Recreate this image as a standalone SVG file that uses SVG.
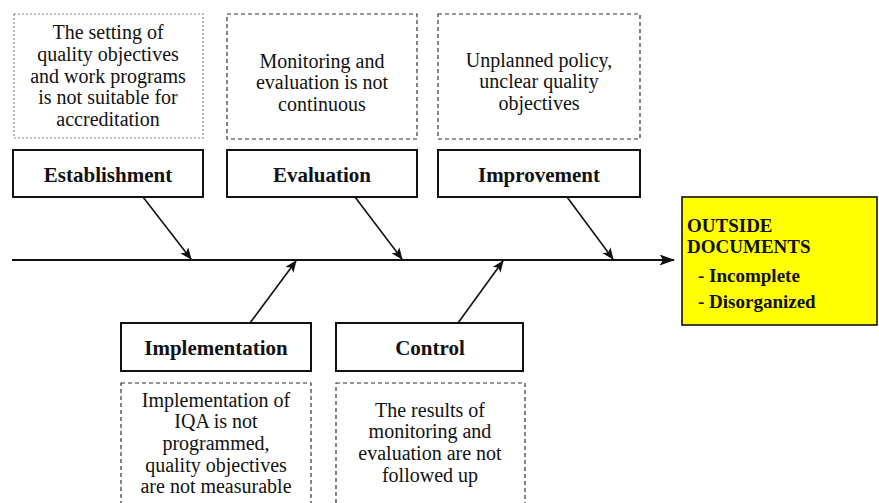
<svg xmlns="http://www.w3.org/2000/svg" width="879" height="503" viewBox="0 0 879 503">
<style>
.bg{fill:#ffffff}
.note{fill:#ffffff;stroke:#333;stroke-width:1.2;stroke-dasharray:4,3}
.note1{fill:#ffffff;stroke:#888;stroke-width:1.2;stroke-dasharray:2,2}
.cat{fill:#ffffff;stroke:#111;stroke-width:2}
.t{font-size:20px;fill:#111;text-anchor:middle}
.b{font-size:21px;font-weight:bold;fill:#111;text-anchor:middle}
.y{font-size:19px;font-weight:bold;fill:#111}
.c{stroke:#111;stroke-width:1.6;fill:none;marker-end:url(#ah)}
.spine{stroke:#111;stroke-width:2.2;fill:none;marker-end:url(#ah2)}
</style>
<defs>
<marker id="ah" viewBox="0 0 12 10" refX="11" refY="5" markerWidth="12" markerHeight="10" markerUnits="userSpaceOnUse" orient="auto">
<path d="M0,0 L12,5 L0,10 L3,5 z" fill="#111"/>
</marker>
<marker id="ah2" viewBox="0 0 14 10" refX="13" refY="5" markerWidth="16" markerHeight="11" markerUnits="userSpaceOnUse" orient="auto">
<path d="M0,0 L14,5 L0,10 L3,5 z" fill="#111"/>
</marker>
</defs>
<rect class="bg" x="0" y="0" width="879" height="503"/>

<g id="connectors">
<line class="spine" x1="12" y1="260" x2="674" y2="260"/>
<line class="c" x1="143" y1="197" x2="191" y2="259"/>
<line class="c" x1="355" y1="197" x2="402" y2="259"/>
<line class="c" x1="567" y1="197" x2="613" y2="259"/>
<line class="c" x1="250" y1="323" x2="296" y2="261"/>
<line class="c" x1="458" y1="323" x2="503" y2="261"/>
</g>

<g font-family="Liberation Serif, Tinos, DejaVu Serif, serif">
<g id="note-establishment">
<rect class="note1" x="14" y="14" width="189" height="124"/>
<text class="t" x="108" y="39">The setting of</text>
<text class="t" x="108" y="61">quality objectives</text>
<text class="t" x="108" y="83">and work programs</text>
<text class="t" x="108" y="104">is not suitable for</text>
<text class="t" x="108" y="126">accreditation</text>
</g>
<g id="establishment">
<rect class="cat" x="13" y="150" width="190" height="47"/>
<text class="b" x="108" y="182">Establishment</text>
</g>

<g id="note-evaluation">
<rect class="note" x="227" y="14" width="190" height="125"/>
<text class="t" x="322" y="68">Monitoring and</text>
<text class="t" x="322" y="89">evaluation is not</text>
<text class="t" x="322" y="111">continuous</text>
</g>
<g id="evaluation">
<rect class="cat" x="227" y="150" width="190" height="47"/>
<text class="b" x="322" y="182">Evaluation</text>
</g>

<g id="note-improvement">
<rect class="note" x="438" y="14" width="202" height="125"/>
<text class="t" x="539" y="67">Unplanned policy,</text>
<text class="t" x="539" y="88">unclear quality</text>
<text class="t" x="539" y="110">objectives</text>
</g>
<g id="improvement">
<rect class="cat" x="438" y="150" width="202" height="47"/>
<text class="b" x="539" y="182">Improvement</text>
</g>

<g id="implementation">
<rect class="cat" x="121" y="323" width="190" height="48"/>
<text class="b" x="216" y="355">Implementation</text>
</g>
<g id="note-implementation">
<rect class="note" x="121" y="383" width="190" height="130"/>
<text class="t" x="216" y="407">Implementation of</text>
<text class="t" x="216" y="428">IQA is not</text>
<text class="t" x="216" y="450">programmed,</text>
<text class="t" x="216" y="472">quality objectives</text>
<text class="t" x="216" y="493">are not measurable</text>
</g>

<g id="control">
<rect class="cat" x="336" y="323" width="187" height="48"/>
<text class="b" x="430" y="355">Control</text>
</g>
<g id="note-control">
<rect class="note" x="336" y="383" width="189" height="130"/>
<text class="t" x="430" y="417">The results of</text>
<text class="t" x="430" y="438">monitoring and</text>
<text class="t" x="430" y="460">evaluation are not</text>
<text class="t" x="430" y="482">followed up</text>
</g>

<g id="outside-documents">
<rect x="682" y="197" width="195" height="128" fill="#ffff00" stroke="#111" stroke-width="1.6"/>
<text class="y" x="687" y="232">OUTSIDE</text>
<text class="y" x="687" y="253">DOCUMENTS</text>
<text class="y" x="698" y="282">- Incomplete</text>
<text class="y" x="698" y="308">- Disorganized</text>
</g>
</g>
</svg>
